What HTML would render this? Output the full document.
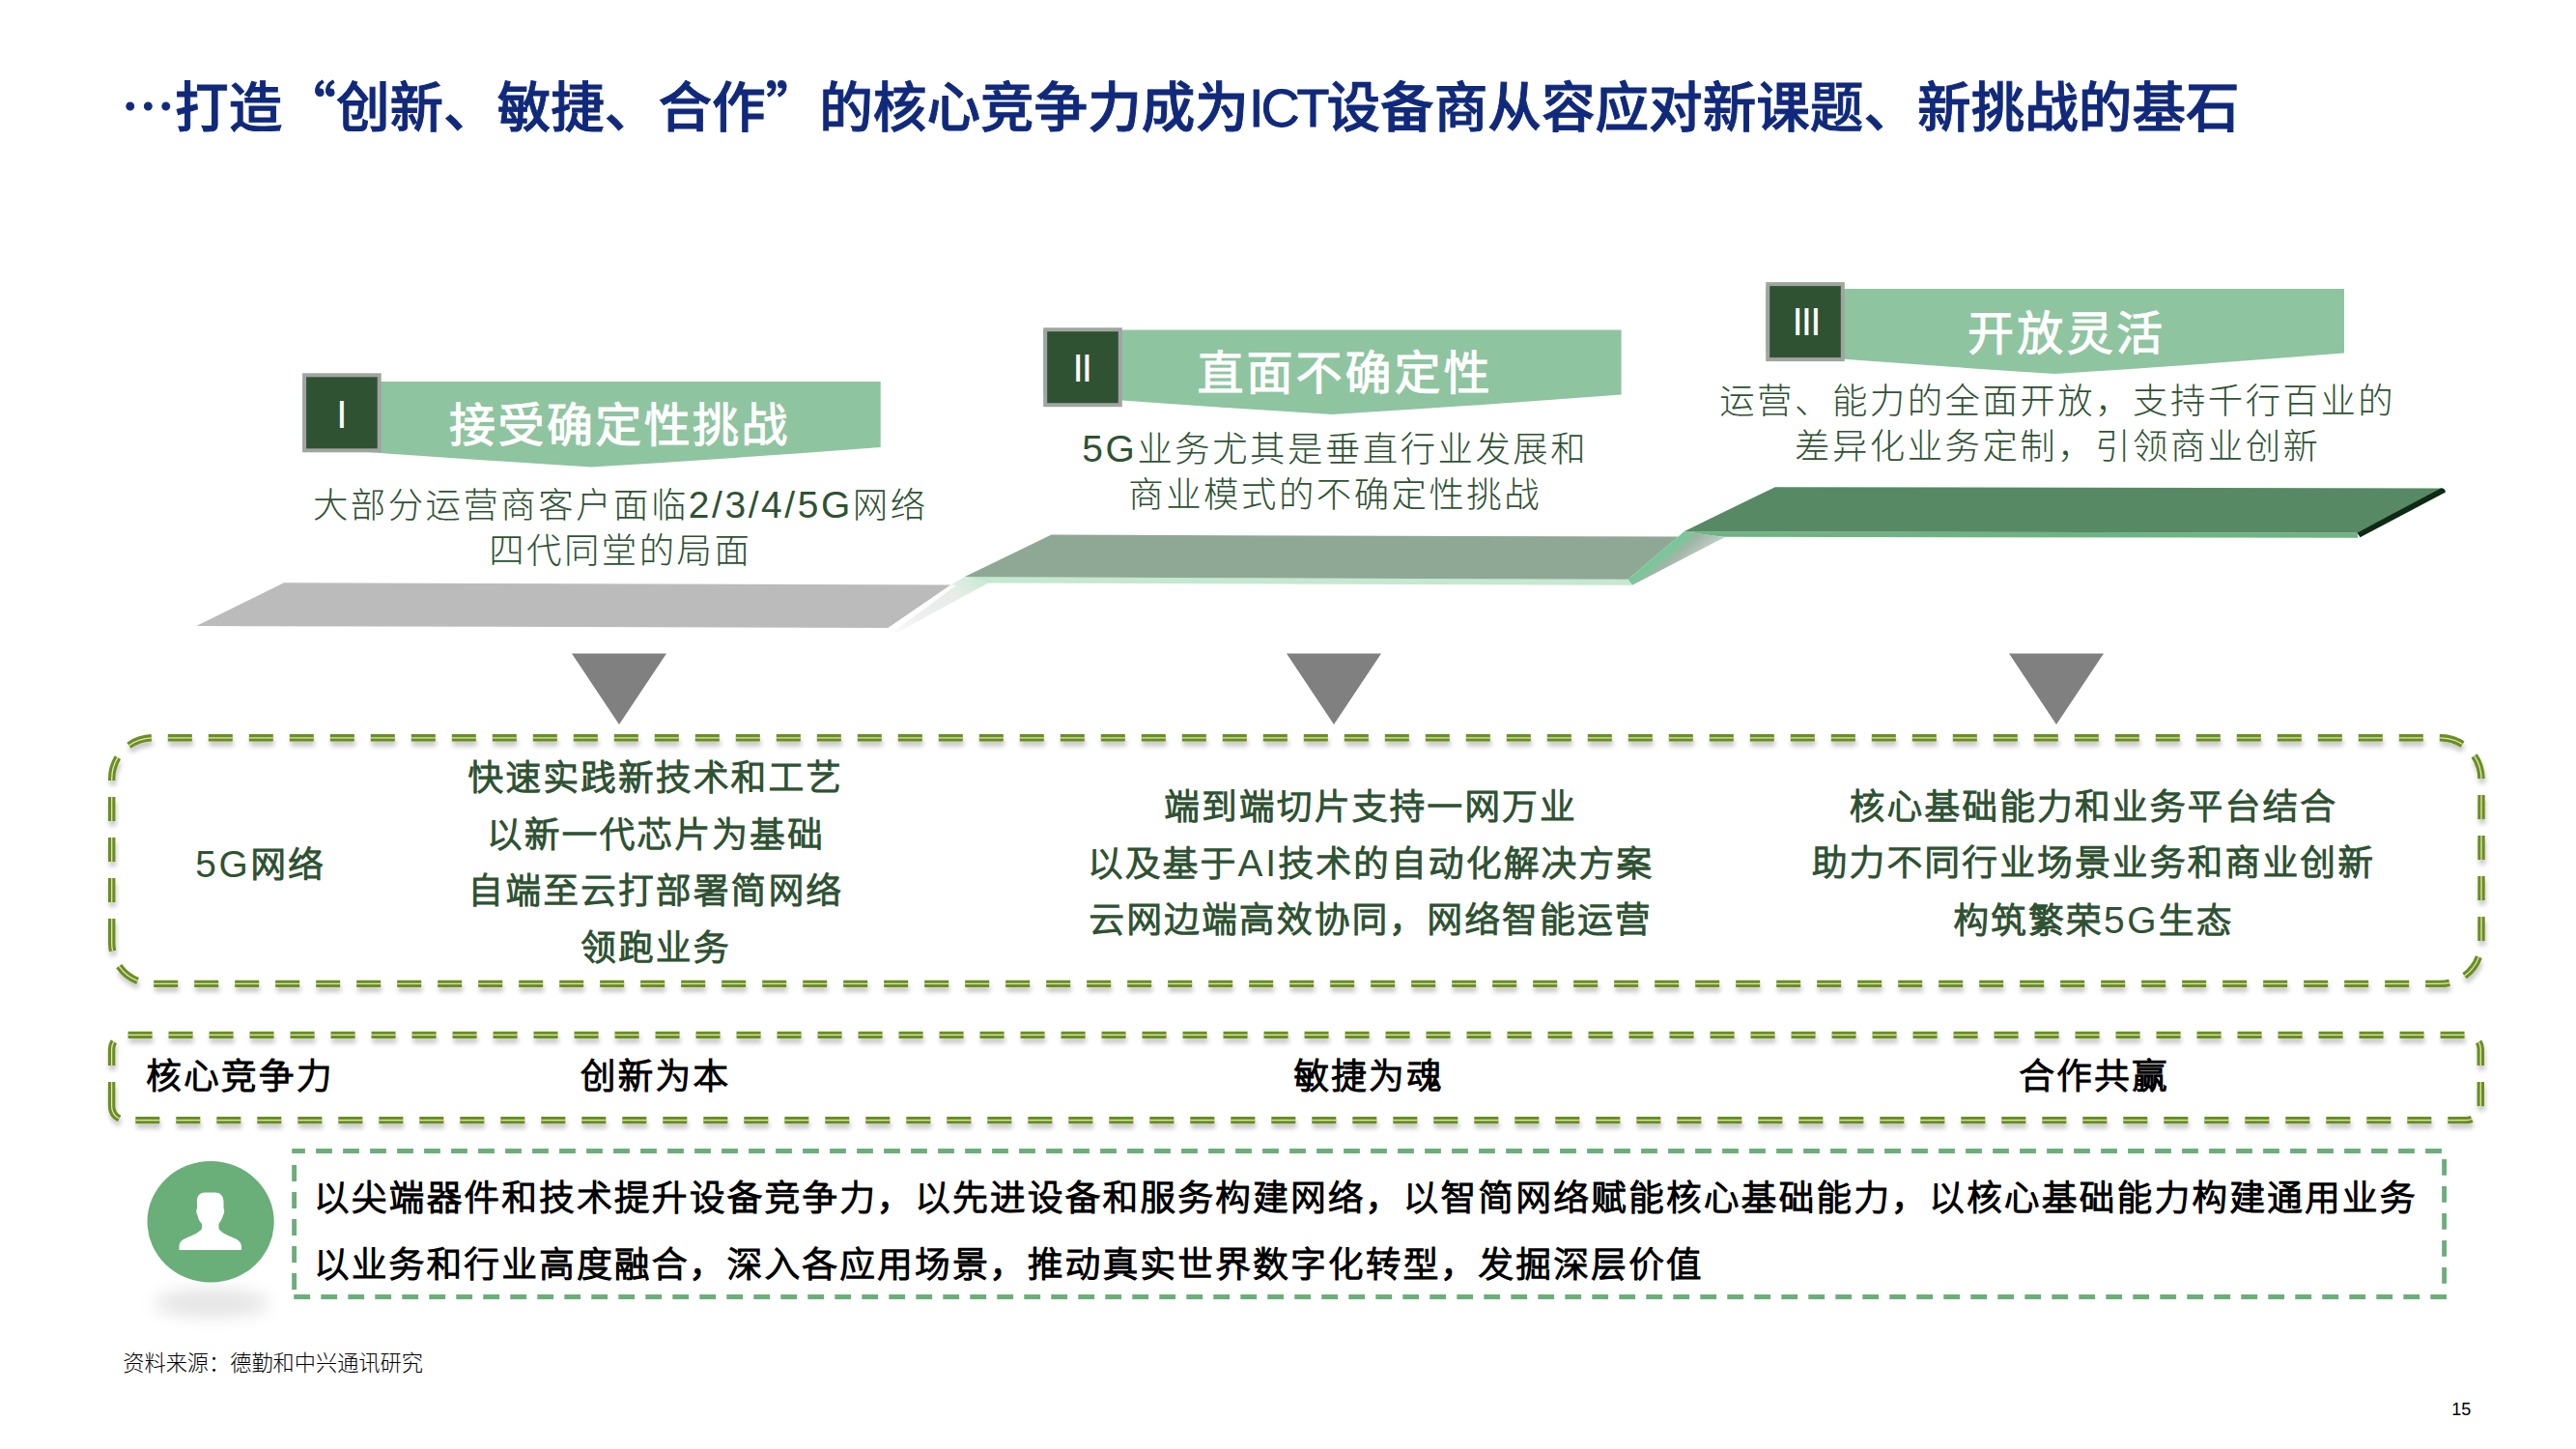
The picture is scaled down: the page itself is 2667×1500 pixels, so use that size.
<!DOCTYPE html><html lang="zh-CN"><head><meta charset="utf-8"><title>slide</title><style>
html,body{margin:0;padding:0;background:#fff;}
body{width:2667px;height:1500px;position:relative;overflow:hidden;font-family:"Liberation Sans","Noto Sans CJK SC",sans-serif;}
.t{position:absolute;white-space:nowrap;margin:0;}
.c{text-align:center;}
svg{position:absolute;left:0;top:0;}
.title{left:125.5px;top:71.8px;font-size:55.6px;line-height:70px;font-weight:500;color:#10297b;-webkit-text-stroke:0.9px #10297b}
.bn{font-size:48px;line-height:60px;color:#fff;font-weight:400;letter-spacing:2px;padding-left:2px;box-sizing:border-box;-webkit-text-stroke:1.1px #fff}
.num{font-size:40.5px;line-height:50px;color:#fff;font-weight:400;letter-spacing:-1.9px}
.desc{font-size:36.4px;line-height:47.2px;color:#2f5233;font-weight:300;letter-spacing:2.5px;padding-left:2.5px;box-sizing:border-box}
.col{font-size:36.4px;line-height:58.4px;color:#2f5233;font-weight:300;letter-spacing:2.5px;padding-left:2.5px;box-sizing:border-box;-webkit-text-stroke:1.6px #2f5233}
.row{font-size:36.4px;line-height:50px;color:#000;font-weight:300;letter-spacing:2.5px;padding-left:2.5px;box-sizing:border-box;-webkit-text-stroke:1.6px #000}
.bot{font-size:36.4px;line-height:69.4px;color:#000;font-weight:300;letter-spacing:2.5px;-webkit-text-stroke:1.6px #000}
.src{font-size:22.2px;line-height:28px;color:#000;font-weight:300;}
.pg{font-size:18px;line-height:24px;color:#000;}
.la{letter-spacing:2.6px;font-size:38.9px;-webkit-text-stroke:0}
.cj{font-family:"Noto Sans CJK SC",sans-serif}
.ict{letter-spacing:-3px}
</style></head><body>
<svg width="2667" height="1500" viewBox="0 0 2667 1500">
<defs>
<filter id="sh" x="-5%" y="-20%" width="110%" height="150%"><feGaussianBlur in="SourceAlpha" stdDeviation="2.6"/><feOffset dx="1" dy="4.5"/><feComponentTransfer><feFuncA type="linear" slope="0.22"/></feComponentTransfer><feMerge><feMergeNode/><feMergeNode in="SourceGraphic"/></feMerge></filter>
<filter id="bl" x="-30%" y="-60%" width="160%" height="220%"><feGaussianBlur stdDeviation="9"/></filter>
<linearGradient id="r1" gradientUnits="userSpaceOnUse" x1="1010" y1="598" x2="925" y2="655"><stop offset="0" stop-color="#cdebd8"/><stop offset="0.25" stop-color="#e6ece8"/><stop offset="0.7" stop-color="#efefef"/><stop offset="1" stop-color="#fafafa"/></linearGradient>
<linearGradient id="r2" gradientUnits="userSpaceOnUse" x1="1713" y1="574" x2="1736" y2="601"><stop offset="0" stop-color="#74c896"/><stop offset="0.22" stop-color="#7fc49c"/><stop offset="0.42" stop-color="#9fb5a5"/><stop offset="1" stop-color="#c8d2cb"/></linearGradient>
</defs>
<polygon points="294,603.2 984.5,605.6 919.6,649.9 203.3,648" fill="#bbbbbb"/>
<polygon points="998.8,597.1 1023.5,603.3 927,655.8 919.6,649.9 984.5,605.6" fill="url(#r1)"/>
<polygon points="984.5,605.6 990,606 925,654 919.6,649.9" fill="#ffffff" opacity="0.85"/>
<polygon points="998.8,597.1 1685.6,599.8 1690,605.8 1023.5,603.4" fill="#c4e8d0"/>
<polygon points="1088.5,553.6 1737.6,555.6 1685.6,599.8 998.8,597.1" fill="#8fa896"/>
<polygon points="1743.4,550.2 1786,556 1690,605.8 1685.6,599.8 1737.6,555.6" fill="url(#r2)"/>
<polygon points="1743.4,550.2 2440.3,551.6 2441.5,556.8 1785,555.8" fill="#6eb482"/>
<polygon points="1837.8,504.2 2530,505.6 2440.3,551.6 1743.4,550.2" fill="#578964"/>
<polygon points="2527.5,505.2 2531,506.4 2532,509.5 2443.5,556.2 2440.3,551.6" fill="#0d2a14"/>
<polygon points="592,676.5 690,676.5 641,750" fill="#808080"/>
<polygon points="1332,676.5 1430,676.5 1381,750" fill="#808080"/>
<polygon points="2080,676.5 2178,676.5 2129,750" fill="#808080"/>
<path d="M313.1,395.1 L911.7,395.1 L911.7,462.9 Q762.0500000000001,474.4 612.4000000000001,483.5 Q462.75000000000006,474.4 313.1,462.9 Z" fill="#8fc4a0"/>
<rect x="315.1" y="388.3" width="77.6" height="78" fill="#2f5233" stroke="#a0a5a0" stroke-width="4"/>
<path d="M1080.2,341.4 L1678.6,341.4 L1678.6,408.6 Q1529.0,419.95 1379.4,428.9 Q1229.8000000000002,419.95 1080.2,408.6 Z" fill="#8fc4a0"/>
<rect x="1082.2" y="341.2" width="77.6" height="78" fill="#2f5233" stroke="#a0a5a0" stroke-width="4"/>
<path d="M1828.2,299 L2427,299 L2427,365.6 Q2277.3,377.5 2127.6,387 Q1977.9,377.5 1828.2,365.6 Z" fill="#8fc4a0"/>
<rect x="1830.2" y="294.1" width="77.6" height="78" fill="#2f5233" stroke="#a0a5a0" stroke-width="4"/>
<g filter="url(#sh)"><path d="M115.7,976.0 L115.7,806.1999999999999 A42.4,42.4 0 0 1 158.1,763.8 L2526.6,763.8 A42.4,42.4 0 0 1 2569,806.1999999999999 L2569,976.0 A42.4,42.4 0 0 1 2526.6,1018.4 L158.1,1018.4 A42.4,42.4 0 0 1 115.7,976.0" fill="none" stroke="#6b8e23" stroke-width="7.4" stroke-dasharray="25 17"/></g>
<path d="M115.7,976.0 L115.7,806.1999999999999 A42.4,42.4 0 0 1 158.1,763.8 L2526.6,763.8 A42.4,42.4 0 0 1 2569,806.1999999999999 L2569,976.0 A42.4,42.4 0 0 1 2526.6,1018.4 L158.1,1018.4 A42.4,42.4 0 0 1 115.7,976.0" fill="none" stroke="#dde7b4" stroke-width="1.3" stroke-dasharray="25 17"/>
<g filter="url(#sh)"><path d="M115.6,1144.8999999999999 L115.6,1086.1000000000001 A14.7,14.7 0 0 1 130.29999999999998,1071.4 L2553.6000000000004,1071.4 A14.7,14.7 0 0 1 2568.3,1086.1000000000001 L2568.3,1144.8999999999999 A14.7,14.7 0 0 1 2553.6000000000004,1159.6 L130.29999999999998,1159.6 A14.7,14.7 0 0 1 115.6,1144.8999999999999" fill="none" stroke="#6b8e23" stroke-width="7.4" stroke-dasharray="25 17"/></g>
<path d="M115.6,1144.8999999999999 L115.6,1086.1000000000001 A14.7,14.7 0 0 1 130.29999999999998,1071.4 L2553.6000000000004,1071.4 A14.7,14.7 0 0 1 2568.3,1086.1000000000001 L2568.3,1144.8999999999999 A14.7,14.7 0 0 1 2553.6000000000004,1159.6 L130.29999999999998,1159.6 A14.7,14.7 0 0 1 115.6,1144.8999999999999" fill="none" stroke="#dde7b4" stroke-width="1.3" stroke-dasharray="25 17"/>
<path d="M302.2,1191.5 L2530.6,1191.5 L2530.6,1342.5 L302.2,1342.5" fill="none" stroke="#6cae7a" stroke-width="4.9" stroke-dasharray="16.8 11.2" stroke-dashoffset="3.1"/>
<path d="M304.6,1342.5 L304.6,1196" fill="none" stroke="#6cae7a" stroke-width="4.9" stroke-dasharray="16.8 11.2" stroke-dashoffset="20.4"/>
<ellipse cx="219" cy="1349" rx="60" ry="15" fill="#000" opacity="0.10" filter="url(#bl)"/>
<ellipse cx="218.1" cy="1264.8" rx="65.6" ry="62.8" fill="#6aae79"/>
<path d="M204,1246 C203,1238 207,1234.5 212,1234.5 L223,1234.5 C228,1234.5 232,1238 231.5,1246 L231.5,1251 C232.5,1252 232.5,1256 231,1258 C230,1262 228,1265 226.5,1267 L226.5,1272 C229,1276 236,1279 243,1282 C248,1284 250,1287 250,1291 L250,1294 L185.5,1294 L185.5,1291 C185.5,1287 187,1284 192,1282 C199,1279 206,1276 209,1272 L209,1267 C207,1265 205,1262 204.5,1258 C203,1256 203,1252 204,1251 Z" fill="#fff"/>
</svg>
<div class="t title"><span class="cj">…</span>打造<span class="cj">“</span>创新、敏捷、合作<span class="cj">”</span>的核心竞争力成为<span class="ict">ICT</span>设备商从容应对新课题、新挑战的基石</div>
<div class="t c bn" style="left:-59.7px;width:1400px;top:411.2px;letter-spacing:2.4px;padding-left:2.4px">接受确定性挑战</div>
<div class="t c bn" style="left:691px;width:1400px;top:357.2px;letter-spacing:3px;padding-left:3px">直面不确定性</div>
<div class="t c bn" style="left:1438px;width:1400px;top:315.5px;letter-spacing:3.3px;padding-left:3.3px">开放灵活</div>
<div class="t c num" style="left:-347px;width:1400px;top:403.8px;">I</div>
<div class="t c num" style="left:419.8px;width:1400px;top:355.8px;">II</div>
<div class="t c num" style="left:1169.5px;width:1400px;top:308.4px;">III</div>
<div class="t c desc" style="left:-59px;width:1400px;top:498.8px;">大部分运营商客户面临<span class="la">2/3/4/5G</span>网络<br>四代同堂的局面</div>
<div class="t c desc" style="left:681px;width:1400px;top:440.6px;"><span class="la">5G</span>业务尤其是垂直行业发展和<br>商业模式的不确定性挑战</div>
<div class="t c desc" style="left:1429px;width:1400px;top:391.7px;">运营、能力的全面开放，支持千行百业的<br>差异化业务定制，引领商业创新</div>
<div class="t c col" style="left:-431.5px;width:1400px;top:865.6px;"><span class="la">5G</span>网络</div>
<div class="t c col" style="left:-22.2px;width:1400px;top:777.3px;">快速实践新技术和工艺<br>以新一代芯片为基础<br>自端至云打部署简网络<br>领跑业务</div>
<div class="t c col" style="left:718px;width:1400px;top:806.5px;">端到端切片支持一网万业<br>以及基于<span class="la">AI</span>技术的自动化解决方案<br>云网边端高效协同，网络智能运营</div>
<div class="t c col" style="left:1466.4px;width:1400px;top:806.8px;">核心基础能力和业务平台结合<br>助力不同行业场景业务和商业创新<br>构筑繁荣<span class="la">5G</span>生态</div>
<div class="t c row" style="left:-452.7px;width:1400px;top:1090.4px;">核心竞争力</div>
<div class="t c row" style="left:-22.6px;width:1400px;top:1090.4px;">创新为本</div>
<div class="t c row" style="left:716px;width:1400px;top:1090.4px;">敏捷为魂</div>
<div class="t c row" style="left:1467px;width:1400px;top:1090.4px;">合作共赢</div>
<div class="t bot" style="left:325px;top:1206px;">以尖端器件和技术提升设备竞争力，以先进设备和服务构建网络，以智简网络赋能核心基础能力，以核心基础能力构建通用业务<br>以业务和行业高度融合，深入各应用场景，推动真实世界数字化转型，发掘深层价值</div>
<div class="t src" style="left:127.3px;top:1398.3px;">资料来源：德勤和中兴通讯研究</div>
<div class="t pg" style="left:2538.2px;top:1447px;">15</div>
</body></html>
